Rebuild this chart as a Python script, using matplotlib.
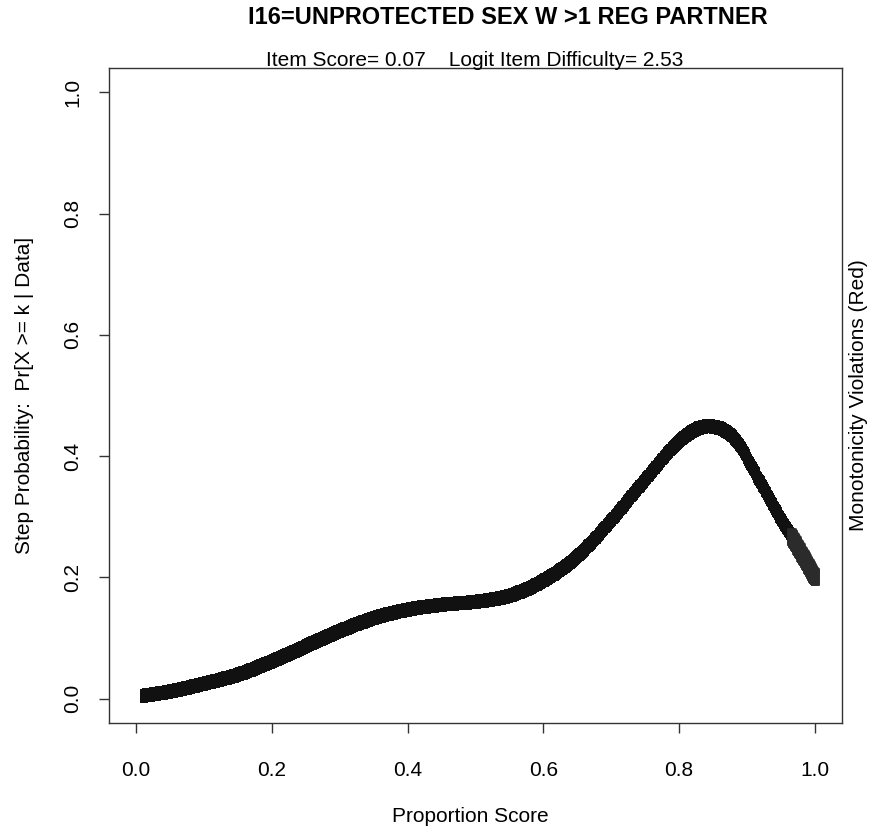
import matplotlib
matplotlib.use('Agg')
import matplotlib.pyplot as plt
import numpy as np

plt.rcParams['font.family'] = ['Liberation Sans', 'DejaVu Sans']

# curve
prop_score = [0.01, 0.05, 0.10, 0.15, 0.20, 0.25, 0.30, 0.35, 0.40, 0.45,
              0.50, 0.55, 0.60, 0.65, 0.70, 0.75, 0.80, 0.84, 0.88, 0.92, 0.95, 0.975]
step_prob = [0.005, 0.012, 0.025, 0.040, 0.062, 0.087, 0.112, 0.133, 0.147, 0.155,
             0.160, 0.170, 0.195, 0.235, 0.295, 0.362, 0.425, 0.449, 0.430, 0.355, 0.295, 0.252]
# monotonicity violation segment (drawn dark grey)
viol_x = [0.966, 0.984, 1.0]
viol_y = [0.266, 0.232, 0.200]

title = "I16=UNPROTECTED SEX W >1 REG PARTNER"
subtitle = "Item Score= 0.07    Logit Item Difficulty= 2.53"
ticks = [0.0, 0.2, 0.4, 0.6, 0.8, 1.0]


def catmull(xp, yp, n=30):
    # Catmull-Rom through the read points
    P = np.column_stack([xp, yp])
    P = np.vstack([P[0], P, P[-1]])
    out = []
    t = np.linspace(0, 1, n, endpoint=False)[:, None]
    for i in range(1, len(P) - 2):
        p0, p1, p2, p3 = P[i - 1], P[i], P[i + 1], P[i + 2]
        out.append(0.5 * ((2 * p1) + (-p0 + p2) * t + (2 * p0 - 5 * p1 + 4 * p2 - p3) * t ** 2
                          + (-p0 + 3 * p1 - 3 * p2 + p3) * t ** 3))
    out.append(P[-2][None, :])
    c = np.vstack(out)
    return c[:, 0], c[:, 1]


# tall narrow block, like the "1" glyphs R plots with
glyph = [(-0.24, -0.5), (0.24, -0.5), (0.24, 0.5), (-0.24, 0.5), (-0.24, -0.5)]

fig = plt.figure(figsize=(8.75, 8.35), dpi=100)
ax = fig.add_axes([109 / 875, 1 - 723 / 835, (842 - 109) / 875, (723 - 68) / 835])

cx, cy = catmull(prop_score, step_prob)
ax.plot(cx, cy, ls='none', marker=glyph, ms=10.5, mfc='#111111', mec='#111111', mew=0)
vx, vy = catmull(viol_x, viol_y, n=20)
ax.plot(vx, vy, ls='none', marker=glyph, ms=11.5, mfc='#2b2b2b', mec='#2b2b2b', mew=1.2)

ax.set_xlim(-0.04, 1.04)
ax.set_ylim(-0.04, 1.04)
ax.set_xticks(ticks)
ax.set_yticks(ticks)
ax.set_xticklabels([f"{t:.1f}" for t in ticks], fontsize=15)
ax.set_yticklabels([f"{t:.1f}" for t in ticks], fontsize=15, rotation=90, va='center')
ax.tick_params(length=7, width=1, color='#333333')
ax.tick_params(axis='x', pad=20)
ax.tick_params(axis='y', pad=12)
for s in ax.spines.values():
    s.set_linewidth(1)
    s.set_color('#333333')

fig.text(470 / 875, 1 - 817 / 835, "Proportion Score", ha='center', va='center', fontsize=15)
fig.text(25 / 875, 1 - 395 / 835, "Step Probability:  Pr[X >= k | Data]", ha='center',
         va='center', rotation=90, fontsize=15)

fig.text(508 / 875, 1 - 18 / 835, title, ha='center', va='center',
         fontsize=17, fontweight='bold')
fig.text(475 / 875, 1 - 60 / 835, subtitle, ha='center', va='center', fontsize=15)
fig.text(858 / 875, 1 - 395 / 835, "Monotonicity Violations (Red)", ha='center',
         va='center', rotation=90, fontsize=15)

plt.savefig('out.png', dpi=100)
